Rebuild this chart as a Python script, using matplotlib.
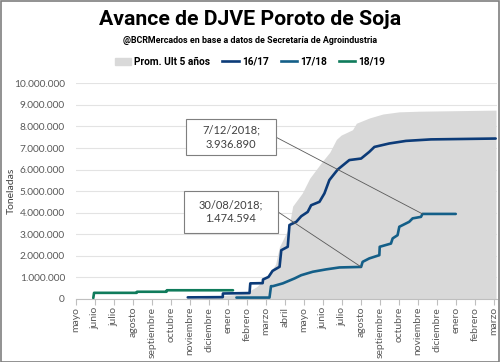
import matplotlib
matplotlib.use("Agg")
import matplotlib.pyplot as plt
from matplotlib.lines import Line2D
from matplotlib.patches import Patch, Rectangle
from matplotlib.ticker import FuncFormatter, MultipleLocator

# x positions are in month units: 0 = "mayo" tick, 22 = last "marzo" tick
MONTHS = ["mayo", "junio", "julio", "agosto", "septiembre", "octubre",
          "noviembre", "diciembre", "enero", "febrero", "marzo", "abril",
          "mayo", "junio", "julio", "agosto", "septiembre", "octubre",
          "noviembre", "diciembre", "enero", "febrero", "marzo"]

# Prom. Ult 5 años (area)
avg_x = [6.5, 7.3, 8.3, 9.0, 9.5, 9.85, 10.2, 10.5, 10.7, 11.2, 11.4, 11.9,
         12.3, 12.98, 13.35, 13.7, 13.95, 14.55, 14.75, 15.45, 16.15, 17.0,
         18.05, 22.1]
avg_y = [0, 120e3, 180e3, 300e3, 550e3, 860e3, 1.2e6, 1.6e6, 2.4e6, 3.3e6,
         4.3e6, 4.9e6, 5.6e6, 6.4e6, 6.8e6, 7.4e6, 7.6e6, 7.85e6, 8.15e6,
         8.4e6, 8.58e6, 8.68e6, 8.71e6, 8.76e6]

# 16/17
c1617_x = [5.88, 7.72, 7.73, 9.13, 9.17, 9.82, 9.84, 10.13, 10.34, 10.71,
           10.80, 11.14, 11.23, 11.59, 11.85, 12.19, 12.37, 12.81, 13.07,
           13.33, 13.77, 14.38, 15.0, 15.43, 15.70, 16.48, 17.36, 18.67, 22.08]
c1617_y = [60e3, 70e3, 240e3, 260e3, 710e3, 720e3, 890e3, 1.01e6, 1.29e6,
           1.48e6, 2.25e6, 2.41e6, 3.42e6, 3.57e6, 3.83e6, 4.03e6, 4.34e6,
           4.50e6, 4.89e6, 5.51e6, 6.0e6, 6.44e6, 6.51e6, 6.82e6, 7.05e6,
           7.21e6, 7.33e6, 7.40e6, 7.44e6]

# 17/18
c1718_x = [8.44, 10.18, 10.26, 10.36, 10.88, 11.50, 11.85, 12.46, 13.16,
           13.86, 15.0, 15.08, 15.43, 15.96, 15.98, 16.57, 16.66, 16.92,
           17.01, 17.53, 17.71, 18.15, 18.23, 19.98]
c1718_y = [50e3, 50e3, 580e3, 580e3, 710e3, 940e3, 1.09e6, 1.25e6, 1.36e6,
           1.45e6, 1474594, 1.71e6, 1.87e6, 2.02e6, 2.41e6, 2.56e6, 2.80e6,
           2.95e6, 3.34e6, 3.57e6, 3.73e6, 3.80e6, 3936890, 3936890]

# 18/19
c1819_x = [0.91, 0.95, 3.19, 3.21, 4.76, 4.78, 8.26]
c1819_y = [30e3, 270e3, 270e3, 320e3, 320e3, 390e3, 390e3]

# label text, point it marks (x, y)
NOTES = [("7/12/2018;\n3.936.890", 18.23, 3936890),
         ("30/08/2018;\n1.474.594", 15.0, 1474594)]
# box layout for each note: x0, x1, y0, y1 (data units)
NOTE_BOXES = [(5.77, 10.53, 6.67e6, 8.33e6),
              (5.67, 10.62, 3.06e6, 5.01e6)]

GRAY = "#d9d9d9"
COL_1617 = "#0c3b78"
COL_1718 = "#145f88"
COL_1819 = "#0f7b5b"
TXT = "#595959"
HEAD = ["Roboto", "DejaVu Sans"]

plt.rcParams["font.family"] = ["Lato", "DejaVu Sans"]

fig = plt.figure(figsize=(5.0, 3.62), dpi=100)
ax = fig.add_axes([0.152, 0.175, 0.842, 0.5945])

ax.fill_between(avg_x, avg_y, 0, color=GRAY, linewidth=0, zorder=1)
for xs, ys, col in [(c1617_x, c1617_y, COL_1617),
                    (c1718_x, c1718_y, COL_1718),
                    (c1819_x, c1819_y, COL_1819)]:
    ax.plot(xs, ys, color=col, lw=1.9, zorder=3, solid_joinstyle="round",
            solid_capstyle="round")

for (text, px, py), (x0, x1, y0, y1) in zip(NOTES, NOTE_BOXES):
    ax.add_patch(Rectangle((x0, y0), x1 - x0, y1 - y0, fc="white",
                           ec="#7f7f7f", lw=0.8, zorder=5))
    ax.text((x0 + x1) / 2, (y0 + y1) / 2, text, fontsize=8, color="#404040",
            ha="center", va="center", linespacing=1.3, zorder=6)
    ax.annotate("", xy=(px, py), xytext=(x1, (y0 + y1) / 2), zorder=4,
                arrowprops=dict(arrowstyle="-", color="#595959", lw=0.6,
                                shrinkA=0, shrinkB=0))

ax.set_xlim(0, 22.15)
ax.set_ylim(0, 10e6)
ax.set_xticks(range(len(MONTHS)))
ax.set_xticklabels(MONTHS, rotation=90, fontsize=7.5, color=TXT)
ax.yaxis.set_major_locator(MultipleLocator(1e6))
ax.yaxis.set_major_formatter(
    FuncFormatter(lambda v, _: f"{int(v):,}".replace(",", ".")))
ax.tick_params(axis="y", length=0, labelsize=7.3, labelcolor=TXT, pad=8)
ax.tick_params(axis="x", length=4, color="#bfbfbf", pad=2)
ax.grid(axis="y", color="#e3e3e3", lw=0.8, zorder=0)
ax.set_axisbelow(True)
for side in ["top", "right", "left"]:
    ax.spines[side].set_visible(False)
ax.spines["bottom"].set_color("#bfbfbf")
ax.spines["bottom"].set_linewidth(0.8)
ax.set_ylabel("Toneladas", fontsize=7.5, color="#404040")
ax.yaxis.set_label_coords(-0.142, 0.5)

fig.text(0.5, 0.945, "Avance de DJVE Poroto de Soja", ha="center", va="center",
         fontsize=15.3, fontweight="bold", family=HEAD)
fig.text(0.5, 0.887, "@BCRMercados en base a datos de Secretaría de Agroindustria",
         ha="center", va="center", fontsize=6.4, fontweight="bold", family=HEAD)

handles = [Patch(color=GRAY, label="Prom. Ult 5 años"),
           Line2D([], [], color=COL_1617, lw=1.9, label="16/17"),
           Line2D([], [], color=COL_1718, lw=1.9, label="17/18"),
           Line2D([], [], color=COL_1819, lw=1.9, label="18/19")]
fig.legend(handles=handles, loc="center", bbox_to_anchor=(0.5, 0.829), ncol=4,
           frameon=False, handlelength=1.6, handletextpad=0.3,
           columnspacing=1.2, prop=dict(family=HEAD, weight="bold", size=7.3))

fig.add_artist(Rectangle((0.001, 0.001), 0.997, 0.997, transform=fig.transFigure,
                         fill=False, ec="#7f7f7f", lw=1.2))

fig.savefig("out.png", dpi=100)
